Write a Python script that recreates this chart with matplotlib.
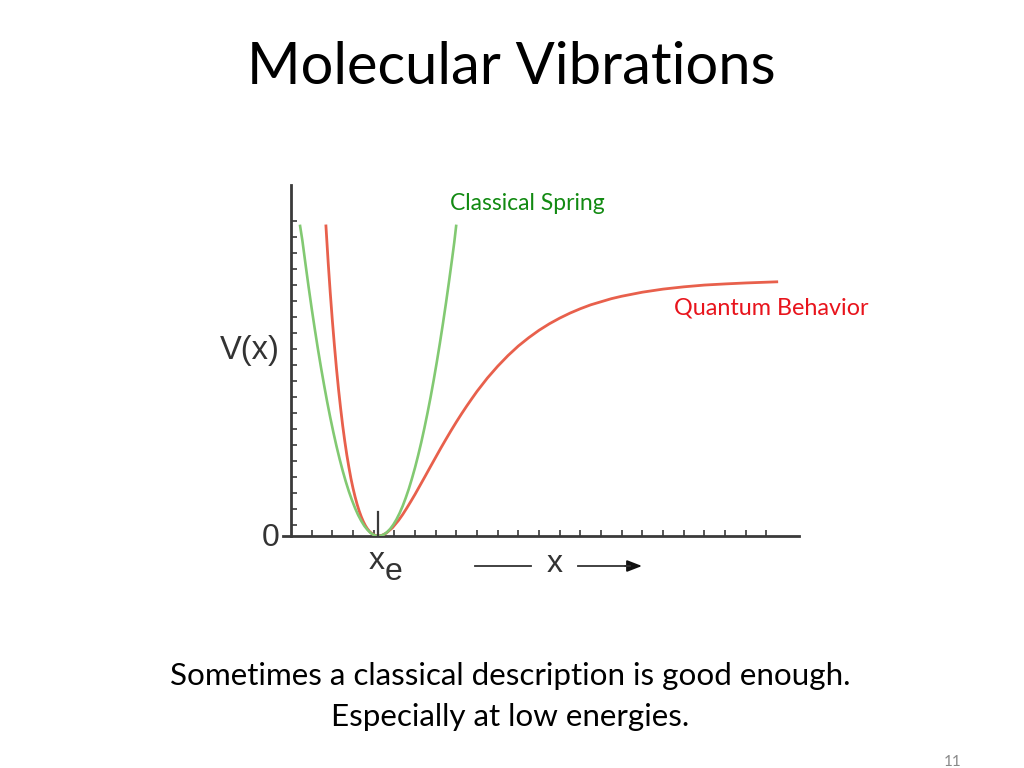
import matplotlib
matplotlib.use('Agg')
import matplotlib.pyplot as plt
import numpy as np

# ---- data (x in axis-tick units, V in axis-tick units) ----
x_e = 4.23

spring_x = [0.44, 0.55, 0.7, 0.85, 1.0, 1.15, 1.3, 1.45, 1.6, 1.75, 1.9, 2.05, 2.2, 2.35, 2.5,
            2.65, 2.8, 2.95, 3.1, 3.25, 3.4, 3.55, 3.7, 3.85, 4.0, 4.1, 4.23,
            4.35, 4.5, 4.65, 4.8, 4.95, 5.1, 5.25, 5.4, 5.55, 5.7, 5.85, 6.0, 6.15, 6.3,
            6.45, 6.6, 6.75, 6.9, 7.05, 7.2, 7.35, 7.5, 7.65, 7.8, 7.9, 7.99]
spring_v = [19.14, 18.24, 16.8, 15.39, 14.05, 12.78, 11.56, 10.41, 9.32, 8.28, 7.31, 6.40, 5.55, 4.76, 4.03,
            3.36, 2.75, 2.21, 1.72, 1.29, 0.93, 0.62, 0.38, 0.19, 0.07, 0.02, 0.0,
            0.02, 0.10, 0.24, 0.44, 0.70, 1.02, 1.40, 1.84, 2.35, 2.91, 3.54, 4.22, 4.97, 5.77,
            6.64, 7.57, 8.55, 9.60, 10.71, 11.88, 13.11, 14.40, 15.76, 17.17, 18.14, 19.14]

morse_x = [1.69, 1.8, 1.9, 2.0, 2.1, 2.2, 2.3, 2.4, 2.5, 2.6, 2.7, 2.8, 2.9, 3.0, 3.1, 3.2, 3.3,
           3.4, 3.5, 3.6, 3.7, 3.8, 3.9, 4.05, 4.23,
           4.4, 4.6, 4.9, 5.2, 5.4, 5.6, 5.8, 6.0, 6.25, 6.5, 6.75, 7.0, 7.25, 7.5, 7.75, 8.0,
           8.25, 8.5, 8.75, 9.0, 9.5, 10.0, 10.5, 11.0, 11.5, 12.0, 12.5, 13.0, 13.5, 14.0,
           14.5, 15.5, 16.0, 17.0, 18.0, 19.0, 20.0, 21.0, 22.0, 23.5]
morse_v = [19.14, 16.86, 15.0, 13.31, 11.77, 10.34, 9.05, 7.89, 6.82, 5.87, 5.01, 4.25, 3.55, 2.95,
           2.42, 1.95, 1.54, 1.19, 0.89, 0.64, 0.44, 0.28, 0.16, 0.05, 0.0,
           0.04, 0.17, 0.50, 0.96, 1.32, 1.72, 2.14, 2.57, 3.14, 3.71, 4.29, 4.86, 5.43, 5.98,
           6.52, 7.04, 7.54, 8.02, 8.48, 8.93, 9.75, 10.48, 11.14, 11.73, 12.24, 12.70, 13.10,
           13.45, 13.76, 14.03, 14.27, 14.65, 14.80, 15.05, 15.24, 15.38, 15.49, 15.56, 15.62, 15.69]

title = "Molecular Vibrations"
label_spring = "Classical Spring"
label_quantum = "Quantum Behavior"
caption = ["Sometimes a classical description is good enough.",
           "Especially at low energies."]
page_no = "11"

W, H = 1024, 768
def fx(px): return px / W
def fy(py): return 1 - py / H

PX_X = 20.67   # pixels per x unit
PX_Y = 16.2    # pixels per y unit

fig = plt.figure(figsize=(10.24, 7.68), dpi=100)
fig.patch.set_facecolor('white')

left_px, right_px, top_px, bot_px = 283, 799, 185, 536
ax = fig.add_axes([fx(left_px), fy(bot_px), fx(right_px) - fx(left_px), fy(top_px) - fy(bot_px)])
ax.set_xlim((left_px - 291) / PX_X, (right_px - 291) / PX_X)
ax.set_ylim(0, (bot_px - top_px) / PX_Y)

axc = '#3a3a3a'
for s in ['top', 'right']:
    ax.spines[s].set_visible(False)
ax.spines['left'].set_position(('data', 0))
for s in ['left', 'bottom']:
    ax.spines[s].set_color(axc)
    ax.spines[s].set_linewidth(2.0)

ax.set_xticks(np.arange(1, 24))
ax.set_yticks((11 + 16 * np.arange(0, 20)) / PX_Y)
ax.tick_params(axis='both', direction='in', length=4.5, width=1.2, color=axc,
               labelbottom=False, labelleft=False)
ax.set_facecolor('none')

ax.plot(morse_x, morse_v, color='#e8604c', lw=2.0, solid_joinstyle='round', zorder=3)
ax.plot(spring_x, spring_v, color='#82c972', lw=1.9, solid_joinstyle='round', zorder=4)
ax.plot([x_e, x_e], [0, (536 - 511.5) / PX_Y], color=axc, lw=1.6, zorder=5)

# ---- texts ----
slide_font = ['Lato', 'DejaVu Sans']
fig.text(0.5 - 1 / W, fy(68), title, ha='center', va='center', fontsize=41.7, family=slide_font,
         color='black')
fig.text(fx(527), fy(203), label_spring, ha='center', va='center', fontsize=16.5, family=slide_font,
         color='#128a12')
fig.text(fx(771), fy(308), label_quantum, ha='center', va='center', fontsize=16.8, family=slide_font,
         color='#e8141c')
fig.text(fx(510), fy(676), caption[0], ha='center', va='center', fontsize=22.6, family=slide_font,
         color='black')
fig.text(fx(510), fy(717), caption[1], ha='center', va='center', fontsize=22.6, family=slide_font,
         color='black')
fig.text(fx(953), fy(762), page_no, ha='center', va='center', fontsize=11, family=slide_font,
         color='#8a8a8a')

gfont = ['Liberation Sans', 'DejaVu Sans']
gcol = '#333333'
fig.text(fx(250), fy(350), 'V(x)', ha='center', va='center', fontsize=23.5, family=gfont, color=gcol)
fig.text(fx(271), fy(538), '0', ha='center', va='center', fontsize=23, family=gfont, color=gcol)
fig.text(fx(369), fy(561), 'x', ha='left', va='center', fontsize=23, family=gfont, color=gcol)
fig.text(fx(385), fy(572), 'e', ha='left', va='center', fontsize=23, family=gfont, color=gcol)
fig.text(fx(555), fy(564), 'x', ha='center', va='center', fontsize=23, family=gfont, color=gcol)
fig.add_artist(plt.Line2D([fx(475), fx(531)], [fy(566), fy(566)], color=gcol, lw=1.3))
fig.add_artist(plt.Line2D([fx(578), fx(630)], [fy(566), fy(566)], color=gcol, lw=1.3))
ax.annotate('', xy=(fx(642), fy(566)), xytext=(fx(625), fy(566)), xycoords='figure fraction',
            textcoords='figure fraction',
            arrowprops=dict(arrowstyle='-|>,head_length=0.9,head_width=0.35', color='#111111', lw=1.3,
                            shrinkA=0, shrinkB=0))

fig.savefig('out.png', dpi=100, facecolor='white')
